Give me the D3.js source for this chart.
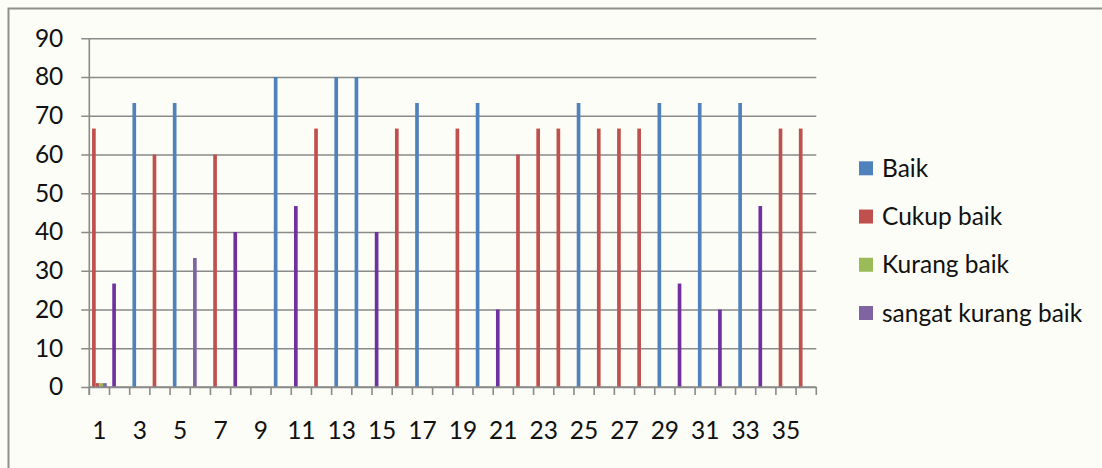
<!DOCTYPE html>
<html>
<head>
<meta charset="utf-8">
<script src="https://cdn.jsdelivr.net/npm/d3@7/dist/d3.min.js"></script>
<style>
  html, body { margin: 0; padding: 0; background: #fcfdf6; }
  svg { display: block; }
  text { font-family: Lato, "Open Sans", sans-serif; fill: #111; }
</style>
</head>
<body>
<svg id="chart" width="1102" height="468"></svg>
<script>
// ---------------- data ----------------
const categories = d3.range(1, 37).map(String);           // 36 respondents
const seriesNames = ["Baik", "Cukup baik", "Kurang baik", "sangat kurang baik"];
const yTicks = [0, 10, 20, 30, 40, 50, 60, 70, 80, 90];
const xTickLabels = ["1","3","5","7","9","11","13","15","17","19","21","23","25","27","29","31","33","35"];

// first series: score per respondent (each point coloured by its rating)
const score = [66.7, 26.7, 73.3, 60, 73.3, 33.3, 60, 40, 0, 80, 46.7, 66.7,
               80, 80, 40, 66.7, 73.3, 0, 66.7, 73.3, 20, 60, 66.7, 66.7,
               73.3, 66.7, 66.7, 66.7, 73.3, 26.7, 73.3, 20, 73.3, 46.7, 66.7, 66.7];
// rating of each point: 0 Baik, 1 Cukup baik, 2 Kurang baik, 3 sangat kurang baik
const rating = [1, 3, 0, 1, 0, 3, 1, 3, 0, 0, 3, 1,
                0, 0, 3, 1, 0, 0, 1, 0, 3, 1, 1, 1,
                0, 1, 1, 1, 0, 3, 0, 3, 0, 3, 1, 1];
// remaining series (only respondent 1 has a tiny value)
const cukupBaik = [1].concat(new Array(35).fill(0));
const kurangBaik = [1].concat(new Array(35).fill(0));
const sangatKurangBaik = [1].concat(new Array(35).fill(0));

// ---------------- styles ----------------
const seriesColors = ["#4F81BD", "#C0504D", "#9BBB59", "#8064A2"];
const ratingBarColors = ["#4F81BD", "#C0504D", "#9BBB59", "#7030A0"];
const barColorOverride = { "6": "#8064A2" };
const fontSize = "24.5px";

// ---------------- layout ----------------
const svg = d3.select("#chart");
const pL = 89.3, pR = 816.3, pT = 38.3, pB = 387;

const x = d3.scaleBand().domain(categories).range([pL, pR]);
// Excel default gap 150%: bar width = band / (4 + 1.5)
const barW = x.bandwidth() / 5.5;
const slot = d3.scaleBand().domain(d3.range(4)).range([barW * 0.75, barW * 4.75]);
const y = d3.scaleLinear().domain([0, 90]).range([pB, pT]);

// outer frame (cropped at right and bottom)
svg.append("path")
  .attr("d", `M8.5,470 V8.5 H1104`)
  .attr("fill", "none").attr("stroke", "#8f928a").attr("stroke-width", 2);

// gridlines + y-axis tick marks
const yAxis = d3.axisLeft(y).tickValues(yTicks).tickSize(-(pR - pL)).tickSizeOuter(0).tickPadding(26);
const gy = svg.append("g").attr("transform", `translate(${pL},0)`).call(yAxis);
gy.select(".domain").remove();
gy.selectAll(".tick line").attr("x1", -8).attr("stroke", "#8a8a8a").attr("stroke-width", 1.6);
gy.selectAll(".tick text").style("font-size", fontSize).style("font-family", "Lato").attr("fill", "#111");

// bars: first series coloured per point
const gBars = svg.append("g");
gBars.selectAll("rect.s0").data(categories).join("rect")
  .attr("class", "s0")
  .attr("x", (d) => x(d) + slot(0))
  .attr("width", slot.bandwidth())
  .attr("y", (d, i) => y(score[i]))
  .attr("height", (d, i) => y(0) - y(score[i]))
  .attr("fill", (d, i) => barColorOverride[d] || ratingBarColors[rating[i]]);

const others = [cukupBaik, kurangBaik, sangatKurangBaik];
others.forEach((vals, k) => {
  gBars.selectAll("rect.s" + (k + 1)).data(categories).join("rect")
    .attr("class", "s" + (k + 1))
    .attr("x", (d) => x(d) + slot(k + 1))
    .attr("width", slot.bandwidth())
    .attr("y", (d, i) => y(vals[i]))
    .attr("height", (d, i) => y(0) - y(vals[i]))
    .attr("fill", seriesColors[k + 1]);
});

// x axis: line, ticks at category boundaries, odd labels
const gx = svg.append("g");
gx.append("line").attr("x1", pL).attr("x2", pR).attr("y1", pB).attr("y2", pB)
  .attr("stroke", "#8a8a8a").attr("stroke-width", 1.6);
const bounds = categories.map(c => x(c)).concat([pR]);
gx.selectAll("line.xt").data(bounds).join("line").attr("class", "xt")
  .attr("x1", d => d).attr("x2", d => d).attr("y1", pB).attr("y2", pB + 8)
  .attr("stroke", "#8a8a8a").attr("stroke-width", 1.6);
gx.selectAll("text").data(xTickLabels).join("text")
  .attr("x", d => x(d) + x.bandwidth() / 2)
  .attr("y", 430).attr("dy", "0.35em").attr("text-anchor", "middle")
  .style("font-size", fontSize).text(d => d);

// y axis line
svg.append("line").attr("x1", pL).attr("x2", pL).attr("y1", pT).attr("y2", pB + 8)
  .attr("stroke", "#8a8a8a").attr("stroke-width", 1.6);

// legend
const legendY = d3.scalePoint().domain(seriesNames).range([168.3, 313]);
const lg = svg.append("g");
lg.selectAll("rect").data(seriesNames).join("rect")
  .attr("x", 859).attr("y", d => legendY(d) - 7).attr("width", 14).attr("height", 14)
  .attr("fill", (d, i) => seriesColors[i]);
lg.selectAll("text").data(seriesNames).join("text")
  .attr("x", 882).attr("y", d => legendY(d)).attr("dy", "0.35em")
  .style("font-size", fontSize).text(d => d);
</script>
</body>
</html>
